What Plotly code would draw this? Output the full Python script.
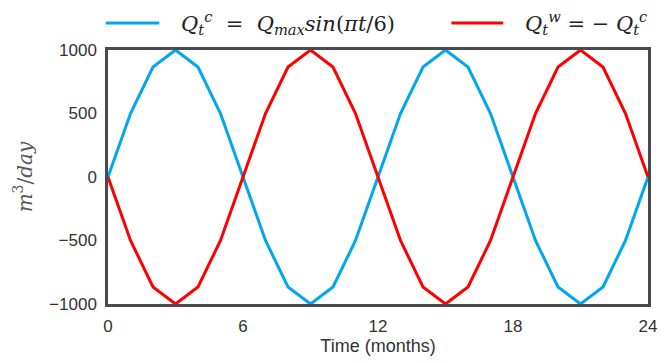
import plotly.graph_objects as go

months = list(range(0, 25))
q_c = [0, 500, 866, 1000, 866, 500, 0, -500, -866, -1000, -866, -500,
       0, 500, 866, 1000, 866, 500, 0, -500, -866, -1000, -866, -500, 0]
q_w = [0, -500, -866, -1000, -866, -500, 0, 500, 866, 1000, 866, 500,
       0, -500, -866, -1000, -866, -500, 0, 500, 866, 1000, 866, 500, 0]
series_names = [
    "<i>Q</i><sub><i>t</i></sub><sup><i>c</i></sup>  =  <i>Q</i><sub><i>max</i></sub><i>sin</i>(<i>πt</i>/6)",
    "<i>Q</i><sub><i>t</i></sub><sup><i>w</i></sup> = − <i>Q</i><sub><i>t</i></sub><sup><i>c</i></sup>",
]
colors = ["#00A6EE", "#FF0000"]
x_ticks = [0, 6, 12, 18, 24]
y_ticks = [-1000, -500, 0, 500, 1000]

fig = go.Figure()
for ys, name, c in zip([q_c, q_w], series_names, colors):
    fig.add_trace(go.Scatter(x=months, y=ys, mode="lines", name=name,
                             line=dict(color=c, width=3), showlegend=False))

# manual legend (wider line samples like the reference)
legend_pos = [(-0.004, 0.095, 0.131), (0.636, 0.732, 0.769)]
for (x0, x1, xt), name, c in zip(legend_pos, series_names, colors):
    fig.add_shape(type="line", xref="paper", yref="paper", x0=x0, x1=x1,
                  y0=1.106, y1=1.106, line=dict(color=c, width=3))
    fig.add_annotation(xref="paper", yref="paper", x=xt, y=1.106, text=name,
                       showarrow=False, xanchor="left", yanchor="middle",
                       font=dict(family="DejaVu Serif", size=21, color="#222"))

axis_common = dict(showgrid=False, zeroline=False, showline=True, mirror=True,
                   linecolor="#4a4a4a", linewidth=2.5, ticks="",
                   tickfont=dict(family="Liberation Sans", size=17, color="#333"))
fig.update_xaxes(range=[0, 24], tickvals=x_ticks, ticklabelstandoff=5,
                 title=dict(text="Time (months)", standoff=4,
                            font=dict(family="Liberation Sans", size=18, color="#333")),
                 **axis_common)
fig.update_yaxes(range=[-1000, 1000], tickvals=y_ticks, ticklabelstandoff=5,
                 title=dict(text="<i>m</i><sup>3</sup>/<i>day</i>", standoff=12,
                            font=dict(family="DejaVu Serif", size=20, color="#555")),
                 **axis_common)
fig.update_layout(width=667, height=363, plot_bgcolor="white", paper_bgcolor="white",
                  margin=dict(l=108, r=10, t=50, b=59))
fig.write_html("out.html")
